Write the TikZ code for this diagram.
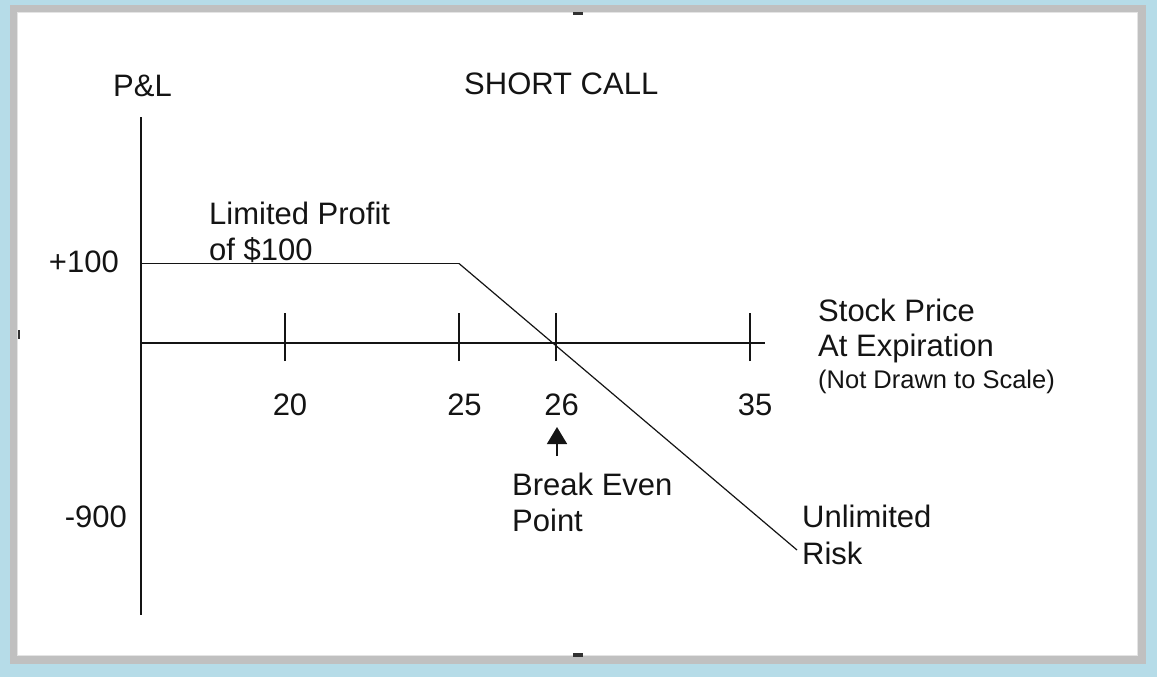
\documentclass[tikz,border=0pt]{standalone}
\usepackage{fontspec}
\setmainfont{Liberation Sans}
\usetikzlibrary{arrows.meta}
\definecolor{bgblue}{RGB}{182,220,232}
\definecolor{framegray}{RGB}{192,192,192}
\definecolor{edgegray}{RGB}{228,228,228}
\definecolor{ink}{RGB}{20,20,20}
\definecolor{handle}{RGB}{50,50,50}
\tikzset{
  axis/.style={draw=ink, line width=1.6pt},
  payoff/.style={draw=ink, line width=1.2pt},
  lbl/.style={inner sep=0pt, text=ink, font=\fontsize{31}{36}\selectfont, anchor=base west},
  lblc/.style={lbl, anchor=base},
  small/.style={inner sep=0pt, text=ink, font=\fontsize{25.5}{30}\selectfont, anchor=base west},
  hnd/.style={fill=handle, draw=none},
}
\begin{document}
\begin{tikzpicture}[x=1pt,y=-1pt]
\useasboundingbox (0,0) rectangle (1157,677);
% background and frame
\fill[bgblue] (0,0) rectangle (1157,677);
\fill[framegray] (10,5) rectangle (1146,664);
\fill[edgegray] (17,12) rectangle (1138,656);
\fill[white] (18,13) rectangle (1137,655);
% selection handles
\fill[hnd] (573,12) rectangle (583,15.5);
\fill[hnd] (573,653) rectangle (583,656.5);
\fill[hnd] (17.5,330) rectangle (20,339);
% axes
\coordinate (ytop) at (141,117);
\coordinate (ybot) at (141,615);
\coordinate (x0) at (141,343);
\coordinate (xend) at (765,343);
\draw[axis] (ytop) -- (ybot);
\draw[axis] (x0) -- (xend);
% ticks
\coordinate (t20) at (285,343);
\coordinate (t25) at (459,343);
\coordinate (t26) at (556,343);
\coordinate (t35) at (750,343);
\foreach \t in {t20,t25,t26,t35}{
  \draw[axis] ([yshift=-18pt]\t) -- ([yshift=30pt]\t);
}
% payoff
\coordinate (p0) at (141,263.5);
\coordinate (kink) at (459,263.5);
\coordinate (pend) at (797,550);
\draw[axis] (p0) -- (kink);
\draw[payoff] (kink) -- (pend);
% labels
\node[lbl] (pl) at (113,96) {P\&L};
\node[lbl] (title) at (464,95) {SHORT CALL};
\node[lbl, anchor=base east] (p100) at (119,272.5) {+100};
\node[lbl, anchor=base east] (m900) at (127,527.5) {-900};
\node[lblc] (l20) at (290,415) {20};
\node[lblc] (l25) at (464.5,415) {25};
\node[lblc] (l26) at (561.5,415) {26};
\node[lblc] (l35) at (755,415) {35};
\node[lbl] (prof1) at (209,224.5) {Limited Profit};
\node[lbl] (prof2) at (209,260) {of \$100};
\node[lbl] (sp1) at (818,321) {Stock Price};
\node[lbl] (sp2) at (818,356.5) {At Expiration};
\node[small] (sp3) at (818,388) {(Not Drawn to Scale)};
\node[lbl] (be1) at (512,495) {Break Even};
\node[lbl] (be2) at (512,531) {Point};
\node[lbl] (ur1) at (802,527) {Unlimited};
\node[lbl] (ur2) at (802,564) {Risk};
% arrow to break-even
\coordinate (arrtail) at (557,456);
\coordinate (arrtip) at (557,427);
\draw[ink, line width=1.6pt, -{Triangle[length=17pt,width=20pt]}] (arrtail) -- (arrtip);
\end{tikzpicture}
\end{document}
